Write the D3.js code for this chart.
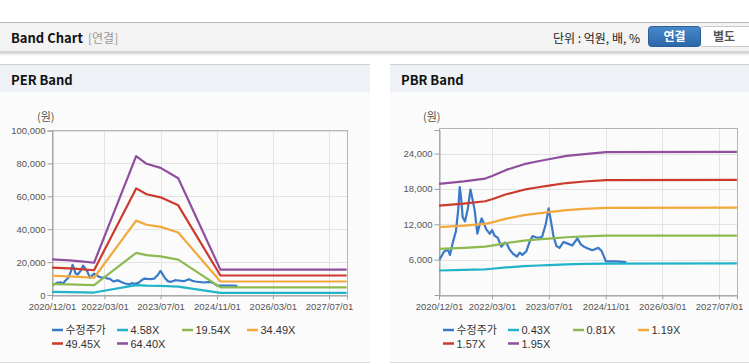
<!DOCTYPE html>
<html>
<head>
<meta charset="utf-8">
<script src="https://cdn.jsdelivr.net/npm/d3@7"></script>
<style>
  body { margin: 0; background: #fff; }
  svg { display: block; font-family: "Liberation Sans", Arial, "Noto Sans CJK KR", sans-serif; }
</style>
</head>
<body>
<svg id="page" width="749" height="364"></svg>
<script>
// x axis ticks shared by both charts
const xTickDates = ["2020-12-01", "2022-03-01", "2023-07-01", "2024-11-01", "2026-03-01", "2027-07-01"];
const xTickLabels = ["2020/12/01", "2022/03/01", "2023/07/01", "2024/11/01", "2026/03/01", "2027/07/01"];
const perYTicks = [0, 20000, 40000, 60000, 80000, 100000];
const pbrYTicks = [6000, 12000, 18000, 24000];

// 수정주가 (adjusted price)
const priceDates = [
  "2020-12-05", "2021-01-15", "2021-02-15", "2021-03-05", "2021-03-28", "2021-04-25",
  "2021-05-15", "2021-05-28", "2021-06-08", "2021-06-22", "2021-07-12", "2021-08-04",
  "2021-08-28", "2021-09-13", "2021-10-03", "2021-10-26", "2021-11-10", "2021-12-02",
  "2021-12-20", "2022-01-12", "2022-02-10", "2022-03-02", "2022-03-22", "2022-04-20",
  "2022-05-19", "2022-06-20", "2022-07-05", "2022-07-30", "2022-08-28", "2022-10-01",
  "2022-10-24", "2022-11-16", "2022-12-20", "2023-01-19", "2023-02-12", "2023-03-12",
  "2023-04-07", "2023-05-05", "2023-06-05", "2023-06-30", "2023-07-20", "2023-08-10",
  "2023-09-05", "2023-10-01", "2023-11-05", "2023-12-01", "2024-01-19", "2024-03-02",
  "2024-04-01", "2024-04-28", "2024-06-01", "2024-07-09", "2024-08-29", "2024-09-25",
  "2024-10-15", "2024-11-01", "2025-01-04", "2025-03-01", "2025-04-27"
];
const prices = [
  6000, 7400, 7700, 6800, 8800, 10800,
  14500, 18300, 16600, 13200, 12500, 14500,
  17900, 16400, 14400, 10400, 11600, 13000,
  12200, 11100, 10400, 11000, 10100, 9700,
  8200, 8900, 8700, 7700, 7000, 6500,
  7200, 6800, 7400, 9100, 10000, 9800,
  9700, 9900, 12000, 14700, 12500, 10000,
  8300, 8000, 9000, 8800, 8400, 9600,
  8600, 8200, 7900, 7600, 8000, 7500,
  6600, 5700, 5700, 5650, 5550
];

// PER bands
const perBandDates = ["2020-12-01", "2021-05-01", "2021-09-01", "2021-12-01", "2022-12-01",
  "2023-03-01", "2023-07-01", "2023-12-01", "2024-12-01", "2027-12-01"];
const perLabels = ["4.58X", "19.54X", "34.49X", "49.45X", "64.40X"];
const per458 = [1900, 1700, 1600, 1500, 6000, 5700, 5500, 5100, 1300, 1300];
const per1954 = [6600, 6400, 6150, 5950, 25600, 24200, 23450, 21500, 4650, 4650];
const per3449 = [11700, 11300, 10850, 10500, 45200, 42700, 41400, 38000, 8200, 8200];
const per4945 = [16650, 16150, 15550, 15050, 64800, 61250, 59350, 54500, 11850, 11850];
const per6440 = [21650, 21000, 20250, 19600, 84400, 79750, 77300, 71000, 15400, 15400];

// PBR bands
const pbrBandDates = ["2020-12-01", "2021-07-01", "2022-01-01", "2022-03-01", "2022-07-01",
  "2022-12-01", "2023-04-01", "2023-07-01", "2023-12-01", "2024-05-01", "2024-11-01", "2027-12-01"];
const pbrLabels = ["0.43X", "0.81X", "1.19X", "1.57X", "1.95X"];
const pbr043 = [4160, 4250, 4360, 4450, 4680, 4900, 5010, 5080, 5200, 5280, 5340, 5350];
const pbr081 = [7830, 8000, 8210, 8390, 8820, 9220, 9430, 9570, 9800, 9940, 10070, 10090];
const pbr119 = [11510, 11760, 12060, 12330, 12960, 13550, 13850, 14060, 14400, 14600, 14790, 14820];
const pbr157 = [15180, 15510, 15910, 16260, 17090, 17870, 18280, 18550, 19000, 19260, 19510, 19550];
const pbr195 = [18860, 19270, 19760, 20200, 21230, 22200, 22700, 23040, 23600, 23920, 24230, 24280];

const lineColors = ["#3a78c8", "#21b3c8", "#8dba50", "#f2a83a", "#cc3a2e", "#8f4f9e"];
const parseDate = d3.timeParse("%Y-%m-%d");

const svg = d3.select("#page");

function drawHeader() {
  svg.append("rect").attr("x", 0).attr("y", 0).attr("width", 749).attr("height", 364).attr("fill", "#fff");

  // shadow under top bar
  const defs = svg.append("defs");
  const sh = defs.append("linearGradient").attr("id", "shadow").attr("x1", 0).attr("y1", 0).attr("x2", 0).attr("y2", 1);
  sh.append("stop").attr("offset", "0%").attr("stop-color", "#cfcfcf");
  sh.append("stop").attr("offset", "100%").attr("stop-color", "#fff");
  const btn = defs.append("linearGradient").attr("id", "btnBlue").attr("x1", 0).attr("y1", 0).attr("x2", 0).attr("y2", 1);
  btn.append("stop").attr("offset", "0%").attr("stop-color", "#4789cb");
  btn.append("stop").attr("offset", "100%").attr("stop-color", "#2b67a9");

  svg.append("rect").attr("x", 0).attr("y", 52).attr("width", 749).attr("height", 4).attr("fill", "url(#shadow)");
  svg.append("rect").attr("x", 0).attr("y", 22).attr("width", 749).attr("height", 30).attr("fill", "#f3f3f3");
  svg.append("line").attr("x1", 0).attr("x2", 749).attr("y1", 22.5).attr("y2", 22.5).attr("stroke", "#b8b8b8");
  svg.append("line").attr("x1", 0).attr("x2", 749).attr("y1", 51.5).attr("y2", 51.5).attr("stroke", "#d4d4d4");

  svg.append("text").attr("x", 11).attr("y", 43).attr("font-size", "13px").attr("font-weight", "bold")
    .attr("font-family", "'Noto Sans CJK KR', sans-serif").attr("fill", "#111").text("Band Chart");
  svg.append("text").attr("x", 88).attr("y", 43).attr("font-size", "12px")
    .attr("font-family", "'Noto Sans CJK KR', sans-serif").attr("fill", "#999").text("[연결]");

  svg.append("text").attr("x", 553).attr("y", 43).attr("font-size", "12px")
    .attr("font-family", "'Noto Sans CJK KR', sans-serif").attr("fill", "#222").text("단위 : 억원, 배, %");

  // toggle buttons
  svg.append("rect").attr("x", 700.5).attr("y", 26.5).attr("width", 52).attr("height", 20).attr("rx", 3)
    .attr("fill", "#fff").attr("stroke", "#c8c8c8");
  svg.append("rect").attr("x", 648.5).attr("y", 26.5).attr("width", 52).attr("height", 20).attr("rx", 3)
    .attr("fill", "url(#btnBlue)").attr("stroke", "#2a5f9c");
  svg.append("text").attr("x", 674.5).attr("y", 41).attr("text-anchor", "middle").attr("font-size", "12px")
    .attr("font-weight", "bold").attr("font-family", "'Noto Sans CJK KR', sans-serif").attr("fill", "#fff").text("연결");
  svg.append("text").attr("x", 724).attr("y", 41).attr("text-anchor", "middle").attr("font-size", "12px")
    .attr("font-weight", "bold").attr("font-family", "'Noto Sans CJK KR', sans-serif").attr("fill", "#555").text("별도");
}

function drawPanel(x0, width, title) {
  const g = svg.append("g");
  g.append("rect").attr("x", x0).attr("y", 64).attr("width", width).attr("height", 298).attr("fill", "#fbfbfb");
  g.append("rect").attr("x", x0).attr("y", 64).attr("width", width).attr("height", 28).attr("fill", "#eef1f6");
  g.append("line").attr("x1", x0).attr("x2", x0 + width).attr("y1", 64.5).attr("y2", 64.5).attr("stroke", "#d0d0d0");
  g.append("line").attr("x1", x0).attr("x2", x0 + width).attr("y1", 362.5).attr("y2", 362.5).attr("stroke", "#dcdcdc");
  g.append("text").attr("x", x0 + 11).attr("y", 85).attr("font-size", "13px").attr("font-weight", "bold")
    .attr("font-family", "'Noto Sans CJK KR', sans-serif").attr("fill", "#111").text(title);
}

function drawChart(opts) {
  const g = svg.append("g");
  const x = d3.scaleTime()
    .domain([parseDate("2020-12-01"), parseDate(opts.endDate)])
    .range([opts.left, opts.right]);
  const y = d3.scaleLinear()
    .domain([0, opts.yMax])
    .range([opts.bottom, opts.yTop]);

  // grid
  g.selectAll(".vgrid").data(xTickDates).enter().append("line")
    .attr("x1", (d) => Math.round(x(parseDate(d))) + 0.5)
    .attr("x2", (d) => Math.round(x(parseDate(d))) + 0.5)
    .attr("y1", opts.top).attr("y2", opts.bottom)
    .attr("stroke", "#e3e3e3");
  g.selectAll(".hgrid").data(opts.yTicks).enter().append("line")
    .attr("x1", opts.left).attr("x2", opts.right)
    .attr("y1", (d) => Math.round(y(d)) + 0.5)
    .attr("y2", (d) => Math.round(y(d)) + 0.5)
    .attr("stroke", "#e3e3e3");

  // frame
  g.append("rect")
    .attr("x", opts.left + 0.5).attr("y", opts.top + 0.5)
    .attr("width", opts.right - opts.left).attr("height", opts.bottom - opts.top)
    .attr("fill", "none").attr("stroke", "#b4b4b4");

  // y axis
  const yAxis = g.append("g")
    .attr("transform", `translate(${opts.left + 0.5},0)`)
    .call(d3.axisLeft(y).tickValues(opts.yTicks).tickSize(5).tickPadding(2).tickFormat(d3.format(",")));
  yAxis.select(".domain").attr("stroke", "#a0a0a0");
  yAxis.selectAll(".tick line").attr("stroke", "#a0a0a0");
  yAxis.selectAll("text").attr("font-size", "9.5px").attr("fill", "#555")
    .attr("font-family", "'Liberation Sans', Arial, sans-serif");

  // x axis
  const xAxis = g.append("g")
    .attr("transform", `translate(0,${opts.bottom + 0.5})`)
    .call(d3.axisBottom(x).tickValues(xTickDates.map(parseDate)).tickSize(4).tickPadding(4)
      .tickFormat((d, i) => xTickLabels[i]));
  xAxis.select(".domain").attr("stroke", "#a0a0a0");
  xAxis.selectAll(".tick line").attr("stroke", "#a0a0a0");
  xAxis.selectAll("text").attr("font-size", "9.5px").attr("fill", "#555")
    .attr("font-family", "'Liberation Sans', Arial, sans-serif");

  g.append("text").attr("x", opts.unitX).attr("y", 121).attr("font-size", "11px").attr("fill", "#555")
    .attr("font-family", "'Noto Sans CJK KR', sans-serif").text("(원)");

  const line = d3.line()
    .x((d) => x(d.date))
    .y((d) => y(d.value));

  const clipId = "clip" + opts.left;
  g.append("clipPath").attr("id", clipId).append("rect")
    .attr("x", opts.left).attr("y", opts.top).attr("width", opts.right - opts.left + 1).attr("height", opts.bottom - opts.top + 1);
  const plot = g.append("g").attr("clip-path", `url(#${clipId})`);

  const priceData = priceDates.map((d, i) => ({ date: parseDate(d), value: prices[i] }));
  plot.append("path").datum(priceData)
    .attr("fill", "none").attr("stroke", lineColors[0]).attr("stroke-width", 2.2)
    .attr("stroke-linejoin", "round").attr("d", line);

  opts.bands.forEach((band, k) => {
    const data = opts.bandDates.map((d, i) => ({ date: parseDate(d), value: band[i] }));
    plot.append("path").datum(data)
      .attr("fill", "none").attr("stroke", lineColors[k + 1]).attr("stroke-width", 2.2)
      .attr("stroke-linejoin", "round").attr("d", line);
  });

  // legend
  const names = ["수정주가"].concat(opts.labels);
  names.forEach((name, i) => {
    const col = i < 4 ? i : i - 4;
    const row = i < 4 ? 0 : 1;
    const lx = opts.legendX + col * 65;
    const ly = 330 + row * 13.5;
    g.append("line").attr("x1", lx).attr("x2", lx + 11).attr("y1", ly).attr("y2", ly)
      .attr("stroke", lineColors[i]).attr("stroke-width", 2.5);
    g.append("text").attr("x", lx + 13.5).attr("y", ly + 4).attr("font-size", "11px").attr("fill", "#333")
      .attr("font-family", "'Liberation Sans', Arial, 'Noto Sans CJK KR', sans-serif").text(name);
  });
}

drawHeader();
drawPanel(0, 370, "PER Band");
drawPanel(390, 359, "PBR Band");

drawChart({
  left: 52, right: 347, top: 130, bottom: 295, yTop: 130.5, yMax: 100000,
  endDate: "2027-12-04", yTicks: perYTicks, unitX: 37, legendX: 52,
  bandDates: perBandDates, labels: perLabels,
  bands: [per458, per1954, per3449, per4945, per6440]
});

drawChart({
  left: 439, right: 737, top: 128, bottom: 295, yTop: 130, yMax: 28000,
  endDate: "2027-12-02", yTicks: pbrYTicks, unitX: 423, legendX: 443,
  bandDates: pbrBandDates, labels: pbrLabels,
  bands: [pbr043, pbr081, pbr119, pbr157, pbr195]
});
</script>
</body>
</html>
